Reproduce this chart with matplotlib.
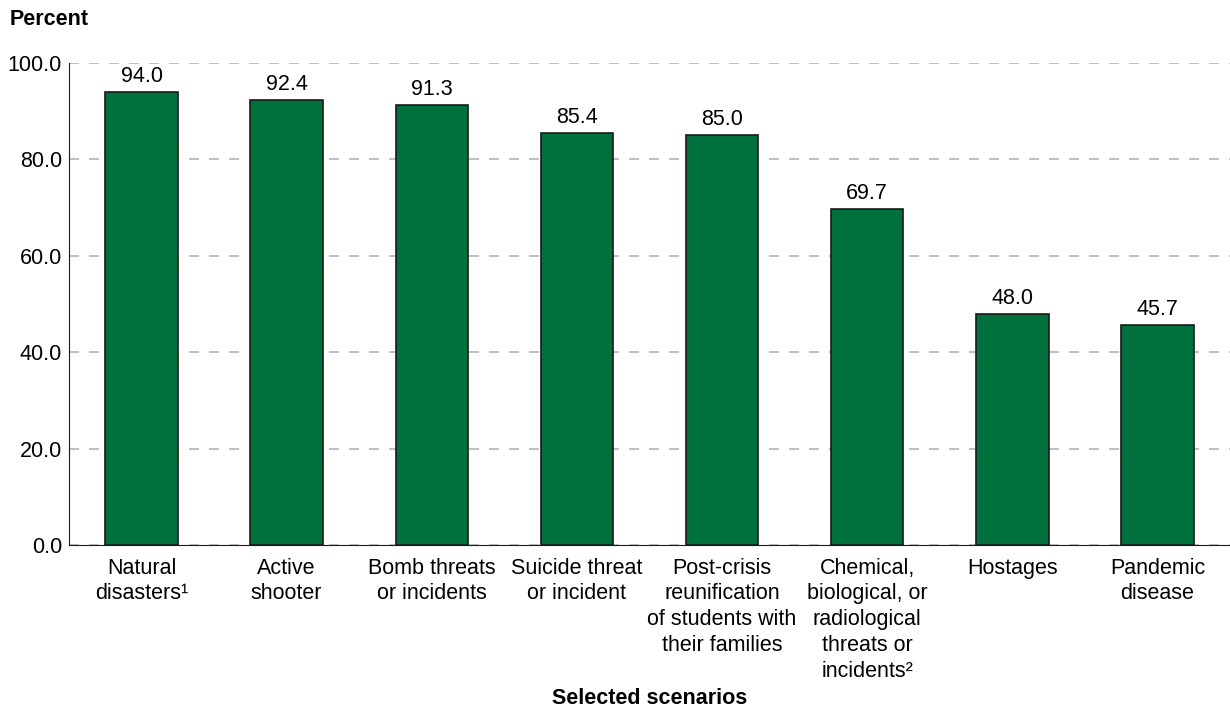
import matplotlib.pyplot as plt

plt.rcParams['font.family'] = ['Liberation Sans', 'DejaVu Sans']

# data
categories = ['Natural\ndisasters\u00b9', 'Active\nshooter', 'Bomb threats\nor incidents',
              'Suicide threat\nor incident', 'Post-crisis\nreunification\nof students with\ntheir families',
              'Chemical,\nbiological, or\nradiological\nthreats or\nincidents\u00b2',
              'Hostages', 'Pandemic\ndisease']
values = [94.0, 92.4, 91.3, 85.4, 85.0, 69.7, 48.0, 45.7]
yticks = [0, 20, 40, 60, 80, 100]

fs = 15.5
fig = plt.figure(figsize=(12.3, 7.07), dpi=100)
ax = fig.add_axes([0.0561, 0.229, 0.9439, 0.682])

x = range(len(values))
ax.bar(x, values, width=0.5, color='#00703c', edgecolor='#1a1a1a', linewidth=1.2, zorder=3)
for xi, v in zip(x, values):
    ax.text(xi, v + 1.0, f'{v:.1f}', ha='center', va='bottom', fontsize=fs)

ax.set_xlim(-0.5, 7.5)
ax.set_ylim(0, 100)
ax.set_yticks(yticks)
ax.set_yticklabels([f'{t:.1f}' for t in yticks], fontsize=fs)
ax.set_xticks(list(x))
ax.set_xticklabels(categories, fontsize=fs, linespacing=1.3, va='top')
ax.tick_params(axis='x', length=0, pad=9)
ax.tick_params(axis='y', length=0, pad=5)

ax.yaxis.grid(True, linestyle=(0, (6, 6)), color='#b4b4c4', linewidth=1.2, zorder=0)
ax.spines['top'].set_visible(False)
ax.spines['right'].set_visible(False)
ax.spines['left'].set_color('#1a1a1a')
ax.spines['bottom'].set_color('#1a1a1a')

fig.text(0.008, 0.972, 'Percent', fontsize=fs, fontweight='bold', ha='left', va='center')
fig.text(0.528, 0.012, 'Selected scenarios', fontsize=fs, fontweight='bold', ha='center', va='center')

fig.savefig('out.png', dpi=100)
